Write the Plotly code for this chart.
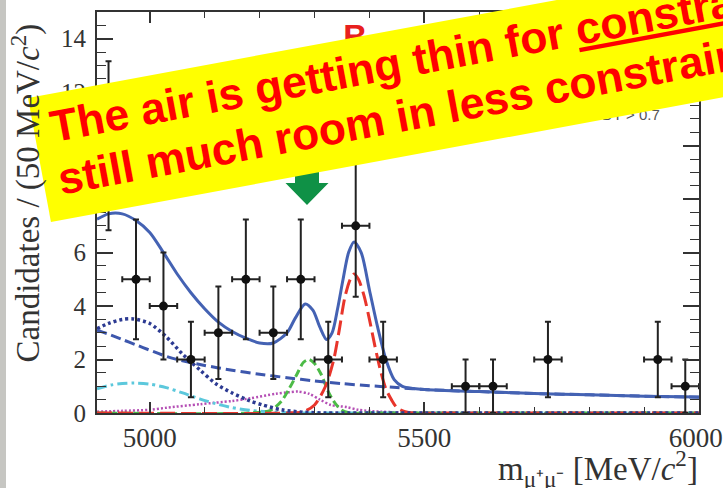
import math
import plotly.graph_objects as go

# ---------------- data ----------------
bin_centres = [4925, 4975, 5025, 5075, 5125, 5175, 5225, 5275, 5325, 5375, 5425,
               5575, 5625, 5725, 5925, 5975]
counts      = [10, 5, 4, 2, 3, 5, 3, 5, 2, 7, 2, 1, 1, 2, 2, 1]
count_errs  = [3.16, 2.24, 2.0, 1.41, 1.73, 2.24, 1.73, 2.24, 1.41, 2.65, 1.41,
               1.0, 1.0, 1.41, 1.41, 1.0]
bin_half_width = 25

total_x = [4904, 4925, 4950, 4975, 5000, 5025, 5050, 5075, 5100, 5125, 5150, 5175, 5200,
           5225, 5250, 5265, 5283, 5297, 5310, 5322, 5332, 5342, 5352, 5362, 5372, 5385,
           5400, 5415, 5430, 5445, 5460, 5480, 5500, 5600, 5700, 5800, 5900, 6000]
total_y = [7.25, 7.45, 7.45, 7.2, 6.75, 6.0, 5.2, 4.5, 3.9, 3.4, 3.05, 2.8, 2.62,
           2.62, 3.0, 3.55, 4.08, 3.85, 3.2, 2.75, 3.0, 3.9, 5.0, 6.0, 6.4, 6.0,
           4.6, 3.2, 2.0, 1.25, 1.0, 0.92, 0.88, 0.8, 0.73, 0.68, 0.63, 0.6]

comb_x = [4904, 4925, 4950, 4975, 5000, 5030, 5050, 5100, 5150, 5200, 5250, 5300, 5350,
          5400, 5450, 5500, 5600, 5700, 5800, 5900, 6000]
comb_y = [3.1, 2.95, 2.75, 2.55, 2.35, 2.12, 2.0, 1.78, 1.6, 1.45, 1.32, 1.2, 1.1,
          1.02, 0.95, 0.88, 0.8, 0.73, 0.68, 0.63, 0.59]

partreco_x = [4904, 4925, 4950, 4970, 5000, 5030, 5060, 5092, 5120, 5150, 5183, 5206,
              5240, 5280, 5320, 5400, 6000]
partreco_y = [3.15, 3.35, 3.5, 3.52, 3.35, 2.85, 2.2, 1.6, 1.1, 0.75, 0.45, 0.3,
              0.12, 0.03, 0.0, 0.0, 0.0]

peaking_x = [4904, 4930, 4970, 5000, 5030, 5060, 5092, 5120, 5150, 5183, 5220, 5260,
             5350, 6000]
peaking_y = [0.9, 1.05, 1.12, 1.08, 0.95, 0.75, 0.52, 0.35, 0.2, 0.1, 0.04, 0.0,
             0.0, 0.0]

semilep_x = [4904, 4950, 5000, 5031, 5092, 5150, 5183, 5230, 5255, 5270, 5290, 5310,
             5330, 5359, 5380, 5420, 5460, 5500, 6000]
semilep_y = [0.05, 0.08, 0.12, 0.2, 0.33, 0.45, 0.55, 0.72, 0.78, 0.8, 0.72, 0.5,
             0.3, 0.22, 0.12, 0.05, 0.02, 0.0, 0.0]

bd_x = [4904, 5180, 5220, 5240, 5255, 5268, 5280, 5290, 5300, 5312, 5325, 5338, 5350,
        5365, 5400, 6000]
bd_y = [0.0, 0.0, 0.1, 0.45, 0.95, 1.45, 1.9, 2.0, 1.85, 1.45, 0.8, 0.35, 0.1,
        0.0, 0.0, 0.0]

bs_x = [4904, 5250, 5280, 5300, 5320, 5335, 5345, 5355, 5365, 5372, 5380, 5390, 5400,
        5410, 5420, 5430, 5440, 5450, 5465, 5480, 5550, 6000]
bs_y = [0.0, 0.0, 0.05, 0.3, 1.0, 2.0, 3.1, 4.3, 5.0, 5.2, 5.0, 4.4, 3.5,
        2.5, 1.6, 0.9, 0.5, 0.2, 0.05, 0.0, 0.0, 0.0]

x_ticks = [5000, 5500, 6000]
x_tick_labels = ["5000", "5500", "6000\u00a0"]
y_ticks = [0, 2, 4, 6, 8, 10, 12, 14]

banner_line1 = "The air is getting thin for <u>constrained</u>"
banner_line2 = "still much room in less constrained"

# ---------------- layout geometry ----------------
W, H = 723, 488
ML, MR, MT, MB = 97, 24, 12, 75
PW, PH = W - ML - MR, H - MT - MB


def xp(px):
    return (px - ML) / PW


def yp(py):
    return (H - MB - py) / PH


SERIF = "Liberation Serif, Times New Roman, serif"
SANS = "Liberation Sans, Arial, sans-serif"

fig = go.Figure()


def curve(x, y, color, width, dash):
    fig.add_trace(go.Scatter(x=x, y=y, mode="lines",
                             line=dict(color=color, width=width, dash=dash,
                                       shape="spline", smoothing=0.8),
                             hoverinfo="skip", showlegend=False))


curve(semilep_x, semilep_y, "#b54fb5", 2.5, "2px,2px")
curve(peaking_x, peaking_y, "#5cc8dc", 3, "10px,4px,3px,4px")
curve(bd_x, bd_y, "#4cbb47", 3, "8px,4px")
curve(bs_x, bs_y, "#e8352b", 3, "15px,6px")
curve(partreco_x, partreco_y, "#2c3a92", 3.5, "3px,3px")
curve(comb_x, comb_y, "#3d57ad", 3, "10px,5px")
curve(total_x, total_y, "#4462b3", 3, "solid")

fig.add_trace(go.Scatter(
    x=bin_centres, y=counts, mode="markers",
    marker=dict(color="#111111", size=9),
    error_y=dict(type="data", array=count_errs, color="#222222", thickness=2, width=3),
    error_x=dict(type="constant", value=bin_half_width, color="#222222", thickness=2, width=3),
    hoverinfo="skip", showlegend=False))

# texts that sit underneath the banner
fig.add_trace(go.Scatter(x=[5374], y=[13.96], mode="text", text=["B"],
                         textfont=dict(family=SANS, size=33, color="#e8201e", weight="bold"),
                         textposition="middle center", hoverinfo="skip",
                         showlegend=False, cliponaxis=False))
fig.add_trace(go.Scatter(x=[5867], y=[11.09], mode="text", text=["BDT > 0.7"],
                         textfont=dict(family=SANS, size=15, color="#555555"),
                         textposition="middle center", hoverinfo="skip",
                         showlegend=False, cliponaxis=False))

# ---------------- shapes ----------------
shapes = []
# grey slide edge at far left
shapes.append(dict(type="rect", xref="paper", yref="paper",
                   x0=xp(0), x1=xp(6), y0=yp(H), y1=yp(0),
                   fillcolor="#c6c6c2", line=dict(width=0), layer="above"))

# green arrow (partly hidden under the banner)
arrow_pts = [(295, 140), (319, 140), (319, 183), (328.5, 183), (307, 205),
             (285.5, 183), (295, 183)]
path = "M " + " L ".join(f"{xp(a):.5f},{yp(b):.5f}" for a, b in arrow_pts) + " Z"
shapes.append(dict(type="path", xref="paper", yref="paper", path=path,
                   fillcolor="#0f9146", line=dict(width=0), layer="above"))

# yellow rotated banner
ang = math.radians(10.5)
ux, uy = math.cos(ang), -math.sin(ang)
dx, dy = math.sin(ang), math.cos(ang)
tl = (28, 98)
bw, bh = 1000, 126
corners = [tl,
           (tl[0] + bw * ux, tl[1] + bw * uy),
           (tl[0] + bw * ux + bh * dx, tl[1] + bw * uy + bh * dy),
           (tl[0] + bh * dx, tl[1] + bh * dy)]
path = "M " + " L ".join(f"{xp(a):.5f},{yp(b):.5f}" for a, b in corners) + " Z"
shapes.append(dict(type="path", xref="paper", yref="paper", path=path,
                   fillcolor="#ffff00", line=dict(width=0), layer="above"))

# ---------------- annotations ----------------
annotations = [
    dict(text=banner_line1, xref="paper", yref="paper", x=xp(43.4), y=yp(153.1),
         xanchor="left", yanchor="bottom", textangle=-10.5, showarrow=False,
         font=dict(family=SANS, size=44.5, color="#ff0000", weight="bold")),
    dict(text=banner_line2, xref="paper", yref="paper", x=xp(51.3), y=yp(205.6),
         xanchor="left", yanchor="bottom", textangle=-10.5, showarrow=False,
         font=dict(family=SANS, size=44.5, color="#ff0000", weight="bold")),
    dict(text="Candidates / (50 MeV/<i>c</i><sup>2</sup>)", xref="paper", yref="paper",
         x=xp(26), y=yp(365), xanchor="center", yanchor="bottom", textangle=-90,
         showarrow=False, font=dict(family=SERIF, size=33, color="#333333")),
    dict(text="m<sub>μ⁺μ⁻</sub> [MeV/<i>c</i><sup>2</sup>]", xref="paper", yref="paper",
         x=xp(700), y=yp(443), xanchor="right", yanchor="top",
         showarrow=False, font=dict(family=SERIF, size=33, color="#333333")),
]

fig.update_layout(
    width=W, height=H,
    margin=dict(l=ML, r=MR, t=MT, b=MB, pad=0, autoexpand=False),
    paper_bgcolor="white", plot_bgcolor="white",
    shapes=shapes, annotations=annotations,
    showlegend=False,
)
fig.update_xaxes(range=[4904, 6000], tickvals=x_ticks, ticktext=x_tick_labels,
                 ticks="inside", ticklen=11, tickwidth=1.5, tickcolor="#333333",
                 minor=dict(dtick=100, ticks="inside", ticklen=6, tickcolor="#333333", tickwidth=1.2),
                 showline=True, linecolor="#333333", linewidth=1.8, mirror="ticks",
                 showgrid=False, zeroline=False, ticklabeloverflow="allow", automargin=False,
                 tickfont=dict(family=SERIF, size=27, color="#333333"))
fig.update_yaxes(range=[0, 15], tickvals=y_ticks, ticktext=[str(v) for v in y_ticks],
                 ticks="inside", ticklen=16, tickwidth=1.5, tickcolor="#333333",
                 minor=dict(dtick=0.5, ticks="inside", ticklen=9, tickcolor="#333333", tickwidth=1.2),
                 showline=True, linecolor="#333333", linewidth=1.8, mirror="ticks",
                 showgrid=False, zeroline=False, ticklabelstandoff=4, automargin=False,
                 tickfont=dict(family=SERIF, size=25, color="#333333"))

fig.write_html("out.html", config={"displayModeBar": False},
               post_script="document.body.style.margin='0px';")
